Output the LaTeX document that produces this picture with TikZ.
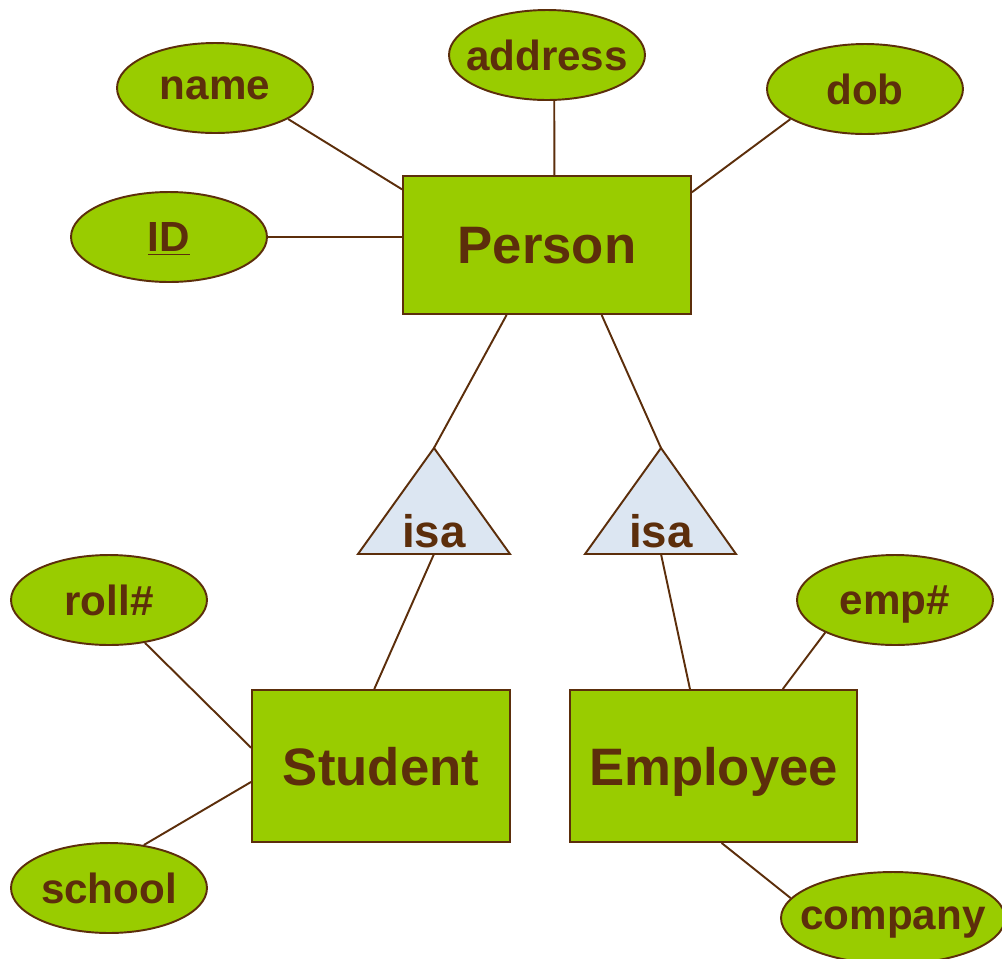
\documentclass[tikz,border=0pt]{standalone}
\usepackage{fontspec}
\setmainfont{Liberation Sans}
\usetikzlibrary{shapes.geometric}
\definecolor{erfill}{HTML}{99CC00}
\definecolor{erline}{HTML}{5C2E0B}
\definecolor{isafill}{HTML}{DCE6F2}
\tikzset{
  entity/.style={rectangle,fill=erfill,draw=erline,line width=1.1pt,text=erline,
    font=\fontsize{30}{36}\selectfont\bfseries,inner sep=0pt,text depth=0pt},
  attr/.style={ellipse,fill=erfill,draw=erline,line width=1.1pt,text=erline,
    font=\fontsize{24}{28}\selectfont\bfseries,minimum width=3.92cm,minimum height=1.8cm,
    inner sep=0pt,text depth=0pt},
  isatri/.style={fill=isafill,draw=erline,line width=1.1pt,line join=miter},
  isatext/.style={text=erline,font=\fontsize{26}{30}\selectfont\bfseries,inner sep=0pt,anchor=base},
  link/.style={draw=erline,line width=1.1pt},
}
\begin{document}
\begin{tikzpicture}[x=0.02cm,y=-0.02cm]
\useasboundingbox (0,0) rectangle (1002,958);
% entities
\node[entity,minimum width=5.76cm,minimum height=2.76cm] (person) at (547,245) {Person};
\node[entity,minimum width=5.16cm,minimum height=3.04cm] (student) at (381,766) {Student};
\node[entity,minimum width=5.74cm,minimum height=3.04cm] (employee) at (713.5,766) {Employee};
% attributes
\node[attr] (name) at (215,88) {name};
\node[attr] (address) at (547,55) {\makebox[2.4cm]{address}};
\node[attr] (dob) at (865,89) {dob};
\node[attr] (id) at (169,237) {\underline{ID}};
\node[attr] (roll) at (109,600) {roll\#};
\node[attr] (school) at (109,888) {school};
\node[attr] (emp) at (895,600) {emp\#};
\node[attr,minimum width=4.48cm,minimum height=1.84cm] (company) at (893,918) {\makebox[2.4cm]{company}};
% isa triangles
\draw[isatri] (434,448) coordinate (isaS top) -- (510,554) -- (358,554) -- cycle;
\coordinate (isaS base) at (434,554);
\node[isatext] (isaS) at (434,547) {isa};
\draw[isatri] (661,448) coordinate (isaE top) -- (736,554) -- (585,554) -- cycle;
\coordinate (isaE base) at (661,554);
\node[isatext] (isaE) at (661,547) {isa};
% links
\draw[link] (name.337) -- (person.159);
\draw[link] (address.279) -- (person.84);
\draw[link] (dob.202.5) -- (person.20.6);
\draw[link] (id.east) -- (id.east -| person.west);
\draw[link] (person.240.5) -- (isaS top);
\draw[link] (person.308) -- (isaE top);
\draw[link] (isaS base) -- (student.95.3);
\draw[link] (isaE base) -- (employee.107);
\draw[link] (roll.310) -- (student.172);
\draw[link] (school.51) -- (student.187);
\draw[link] (emp.205) -- (employee.48.4);
\draw[link] (company.169) -- (employee.276.4);
\end{tikzpicture}
\end{document}
